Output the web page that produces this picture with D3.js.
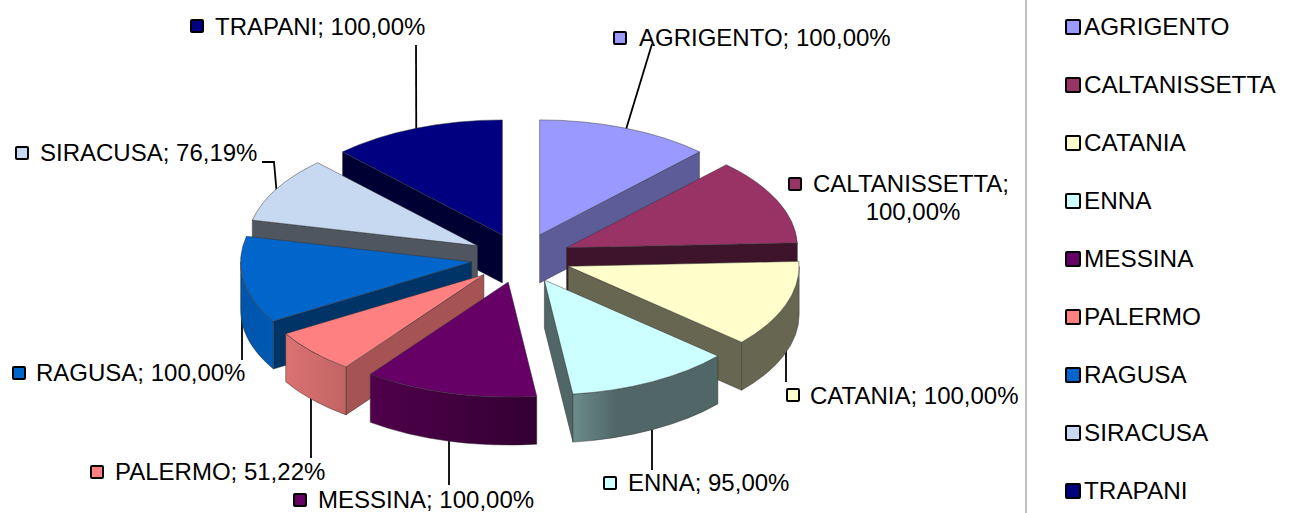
<!DOCTYPE html>
<html>
<head>
<meta charset="utf-8">
<script src="https://cdn.jsdelivr.net/npm/d3@7"></script>
<style>
    html, body { margin: 0; padding: 0; background: #fff; overflow: hidden; }
    text { font-family: "Liberation Sans", Arial, sans-serif; font-size: 24px; fill: #000; }
</style>
</head>
<body>
<div id="chart"></div>
<script>
// data
const provinces = ['AGRIGENTO', 'CALTANISSETTA', 'CATANIA', 'ENNA', 'MESSINA', 'PALERMO', 'RAGUSA', 'SIRACUSA', 'TRAPANI'];
const values = [100, 100, 100, 95, 100, 51.22, 100, 76.19, 100];
const valueLabels = ['100,00%', '100,00%', '100,00%', '95,00%', '100,00%', '51,22%', '100,00%', '76,19%', '100,00%'];

// colours: top, radial wall, outer wall left, outer wall right
const topColors = ['#9999FF', '#993366', '#FFFFCC', '#CCFFFF', '#660066', '#FF8080', '#0066CC', '#C6D9F0', '#000080'];
const wallColors = ['#5C5C99', '#3D1429', '#666651', '#516666', '#3D003D', '#A65353', '#003366', '#4F5660', '#000033'];
const outerLeft = ['#5C5C99', '#3D1429', '#666651', '#6C8C8C', '#4F004A', '#DB7272', '#0055AA', '#4F5660', '#000033'];
const outerRight = ['#5C5C99', '#3D1429', '#666651', '#516666', '#330033', '#C26464', '#0059B3', '#4F5660', '#000033'];

// label layout: [marker x, marker y, text x, text y]
const labelPos = [
    [613, 31, 639, 37],
    [788, 177, 813, 183],
    [786, 388, 810, 395],
    [603, 476, 628, 482],
    [293, 493, 318, 499],
    [90, 465, 115, 471],
    [12, 366, 36, 372],
    [15, 146, 40, 152],
    [190, 19, 215, 26]
];
// where each leader line ends (null = no leader), elbow for siracusa
const leaderEnds = [
    [[652, 44]],
    null,
    [[786, 382]],
    [[652, 470]],
    [[449, 485]],
    [[311, 458]],
    [[242, 360]],
    [[274, 162], [262, 162]],
    [[416, 45]]
];

const width = 1311, height = 513;
const cx = 521, cy = 258;
const rx = 231, ry = 115, depth = 48, explode = 50;

const svg = d3.select('#chart').append('svg')
    .attr('width', width)
    .attr('height', height)
    .style('display', 'block');

const defs = svg.append('defs');

const angles = d3.pie().sort(null).value(d => d)(values);

// projection of a point on the tilted circle
const slices = angles.map((a, i) => {
    const mid = (a.startAngle + a.endAngle) / 2;
    return {
        i: i,
        a0: a.startAngle,
        a1: a.endAngle,
        mid: mid,
        ox: cx + explode * Math.sin(mid),
        oy: cy - explode * (ry / rx) * Math.cos(mid)
    };
});

const px = (s, t) => s.ox + rx * Math.sin(t);
const py = (s, t) => s.oy - ry * Math.cos(t);

function topPath(s) {
    const large = s.a1 - s.a0 > Math.PI ? 1 : 0;
    return `M${s.ox},${s.oy}L${px(s, s.a0)},${py(s, s.a0)}A${rx},${ry} 0 ${large} 1 ${px(s, s.a1)},${py(s, s.a1)}Z`;
}

function wallPath(s, t) {
    return `M${s.ox},${s.oy}L${px(s, t)},${py(s, t)}v${depth}L${s.ox},${s.oy + depth}Z`;
}

function outerPath(s, t0, t1) {
    return `M${px(s, t0)},${py(s, t0)}A${rx},${ry} 0 0 1 ${px(s, t1)},${py(s, t1)}v${depth}A${rx},${ry} 0 0 0 ${px(s, t0)},${py(s, t0) + depth}Z`;
}

// back slices first
const paintOrder = slices.slice().sort((a, b) => Math.cos(b.mid) - Math.cos(a.mid));

const edge = '#33333399';

// leader lines go under the slices
const leaders = svg.append('g');
slices.forEach(s => {
    if (!leaderEnds[s.i]) return;
    const end = leaderEnds[s.i];
    // front slices hang their leader straight down from the outer wall
    const front = Math.cos(s.mid) < 0;
    const start = front
        ? [end[0][0], py(s, s.mid) + depth - 10]
        : [px(s, s.mid), py(s, s.mid) + 2];
    leaders.append('path')
        .attr('d', d3.line()([start].concat(end)))
        .attr('fill', 'none')
        .attr('stroke', '#000')
        .attr('stroke-width', 1.8);
});

const pie = svg.append('g');
paintOrder.forEach(s => {
    const g = pie.append('g').attr('class', 'slice');

    // radial walls
    if (Math.sin(s.a0) < -1e-6) {
        g.append('path').attr('d', wallPath(s, s.a0))
            .attr('fill', wallColors[s.i]).attr('stroke', edge).attr('stroke-width', 0.8);
    }
    if (Math.sin(s.a1) > 1e-6) {
        g.append('path').attr('d', wallPath(s, s.a1))
            .attr('fill', wallColors[s.i]).attr('stroke', edge).attr('stroke-width', 0.8);
    }

    // outer wall, only the front half of the ellipse
    const t0 = Math.max(s.a0, Math.PI / 2), t1 = Math.min(s.a1, Math.PI * 1.5);
    if (t1 > t0) {
        const id = 'outer' + s.i;
        const grad = defs.append('linearGradient').attr('id', id)
            .attr('gradientUnits', 'userSpaceOnUse')
            .attr('x1', Math.min(px(s, t0), px(s, t1))).attr('x2', Math.max(px(s, t0), px(s, t1)))
            .attr('y1', 0).attr('y2', 0);
        grad.append('stop').attr('offset', 0).attr('stop-color', outerLeft[s.i]);
        grad.append('stop').attr('offset', s.i === 3 ? 0.3 : 1).attr('stop-color', outerRight[s.i]);
        g.append('path').attr('d', outerPath(s, t0, t1))
            .attr('fill', `url(#${id})`).attr('stroke', edge).attr('stroke-width', 0.8);
    }

    g.append('path').attr('d', topPath(s))
        .attr('fill', topColors[s.i]).attr('stroke', edge).attr('stroke-width', 0.8);
});

// data labels
const markerSize = 12;
const labels = svg.append('g');
provinces.forEach((p, i) => {
    const pos = labelPos[i];
    labels.append('rect')
        .attr('x', pos[0] + 1).attr('y', pos[1] + 1)
        .attr('width', markerSize).attr('height', markerSize)
        .attr('fill', topColors[i]).attr('stroke', '#000').attr('stroke-width', 2)
        .attr('rx', 1);

    if (p === 'CALTANISSETTA') {
        // wraps on two lines in the original
        labels.append('text').attr('x', pos[2]).attr('y', pos[3])
            .attr('dominant-baseline', 'central').text(`${p};`);
        labels.append('text').attr('x', 913).attr('y', pos[3] + 28)
            .attr('text-anchor', 'middle').attr('dominant-baseline', 'central').text(valueLabels[i]);
    } else {
        labels.append('text').attr('x', pos[2]).attr('y', pos[3])
            .attr('dominant-baseline', 'central').text(`${p}; ${valueLabels[i]}`);
    }
});

// legend
svg.append('line')
    .attr('x1', 1026).attr('x2', 1026).attr('y1', 0).attr('y2', height)
    .attr('stroke', '#ababab').attr('stroke-width', 1.5);

const legendY = d3.scalePoint().domain(provinces).range([27, 491]);
const legend = svg.append('g').selectAll('g').data(provinces).enter().append('g')
    .attr('transform', d => `translate(1066,${legendY(d)})`);

legend.append('rect')
    .attr('x', 0).attr('y', -7)
    .attr('width', 14).attr('height', 14)
    .attr('fill', (d, i) => topColors[i])
    .attr('stroke', '#000').attr('stroke-width', 2)
    .attr('rx', 1);

legend.append('text')
    .attr('x', 18)
    .attr('y', -1)
    .attr('dominant-baseline', 'central')
    .style('font-size', '24.3px')
    .text(d => d);
</script>
</body>
</html>
